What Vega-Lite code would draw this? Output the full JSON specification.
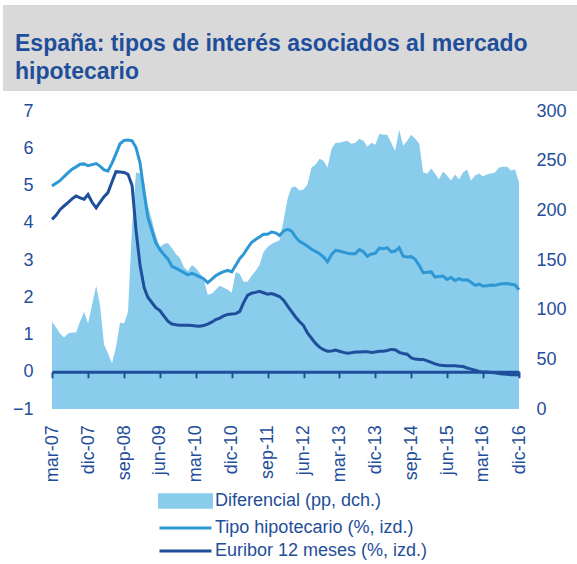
{
  "$schema": "https://vega.github.io/schema/vega-lite/v6.json",
  "padding": {"left": 3, "top": 5, "right": 0, "bottom": 0},
  "background": "#ffffff",
  "spacing": 11,
  "config": {
    "font": "Liberation Sans",
    "view": {"stroke": null},
    "axis": {"grid": false, "labelFont": "Liberation Sans", "labelColor": "#1F4E9A", "labelFontSize": 18}
  },
  "vconcat": [
    {
      "width": 574,
      "height": 86,
      "view": {"fill": "#d9d9d9", "stroke": null},
      "title": {
        "text": ["España: tipos de interés asociados al mercado", "hipotecario"],
        "anchor": "start", "frame": "group", "orient": "top",
        "offset": -79, "dx": 12, "font": "Liberation Sans", "fontSize": 23,
        "fontWeight": "bold", "color": "#1F4E9A", "lineHeight": 28
      },
      "data": {"values": [{}]},
      "mark": {"type": "text"},
      "encoding": {"text": {"value": ""}}
    },
    {
      "width": 516,
      "height": 298,
      "data": {"values": [
        {"d":"2007-03","dif":88,"t":4.99,"e":4.09},
        {"d":"2007-04","dif":82,"t":5.06,"e":4.20},
        {"d":"2007-05","dif":76,"t":5.13,"e":4.35},
        {"d":"2007-06","dif":72,"t":5.24,"e":4.45},
        {"d":"2007-07","dif":76,"t":5.34,"e":4.54},
        {"d":"2007-08","dif":77,"t":5.44,"e":4.64},
        {"d":"2007-09","dif":77,"t":5.50,"e":4.72},
        {"d":"2007-10","dif":88,"t":5.57,"e":4.67},
        {"d":"2007-11","dif":98,"t":5.58,"e":4.63},
        {"d":"2007-12","dif":86,"t":5.53,"e":4.76},
        {"d":"2008-01","dif":105,"t":5.56,"e":4.55},
        {"d":"2008-02","dif":124,"t":5.59,"e":4.40},
        {"d":"2008-03","dif":105,"t":5.52,"e":4.55},
        {"d":"2008-04","dif":65,"t":5.42,"e":4.70},
        {"d":"2008-05","dif":56,"t":5.39,"e":4.81},
        {"d":"2008-06","dif":46,"t":5.60,"e":5.10},
        {"d":"2008-07","dif":62,"t":5.85,"e":5.37},
        {"d":"2008-08","dif":87,"t":6.12,"e":5.36},
        {"d":"2008-09","dif":86,"t":6.21,"e":5.35},
        {"d":"2008-10","dif":98,"t":6.22,"e":5.30},
        {"d":"2008-11","dif":185,"t":6.20,"e":5.00},
        {"d":"2008-12","dif":238,"t":6.02,"e":3.80},
        {"d":"2009-01","dif":237,"t":5.60,"e":2.85},
        {"d":"2009-02","dif":228,"t":4.80,"e":2.26},
        {"d":"2009-03","dif":205,"t":4.15,"e":2.00},
        {"d":"2009-04","dif":190,"t":3.80,"e":1.86},
        {"d":"2009-05","dif":175,"t":3.46,"e":1.72},
        {"d":"2009-06","dif":163,"t":3.28,"e":1.64},
        {"d":"2009-07","dif":166,"t":3.15,"e":1.50},
        {"d":"2009-08","dif":167,"t":3.03,"e":1.36},
        {"d":"2009-09","dif":162,"t":2.83,"e":1.28},
        {"d":"2009-10","dif":156,"t":2.78,"e":1.26},
        {"d":"2009-11","dif":152,"t":2.72,"e":1.25},
        {"d":"2009-12","dif":143,"t":2.66,"e":1.25},
        {"d":"2010-01","dif":139,"t":2.60,"e":1.25},
        {"d":"2010-02","dif":145,"t":2.64,"e":1.24},
        {"d":"2010-03","dif":142,"t":2.60,"e":1.23},
        {"d":"2010-04","dif":137,"t":2.55,"e":1.22},
        {"d":"2010-05","dif":132,"t":2.50,"e":1.24},
        {"d":"2010-06","dif":115,"t":2.39,"e":1.28},
        {"d":"2010-07","dif":116,"t":2.48,"e":1.33},
        {"d":"2010-08","dif":120,"t":2.58,"e":1.40},
        {"d":"2010-09","dif":124,"t":2.64,"e":1.44},
        {"d":"2010-10","dif":122,"t":2.69,"e":1.50},
        {"d":"2010-11","dif":120,"t":2.72,"e":1.54},
        {"d":"2010-12","dif":117,"t":2.68,"e":1.55},
        {"d":"2011-01","dif":138,"t":2.86,"e":1.56},
        {"d":"2011-02","dif":136,"t":3.04,"e":1.62},
        {"d":"2011-03","dif":128,"t":3.15,"e":1.85},
        {"d":"2011-04","dif":128,"t":3.32,"e":2.05},
        {"d":"2011-05","dif":134,"t":3.47,"e":2.11},
        {"d":"2011-06","dif":139,"t":3.55,"e":2.13},
        {"d":"2011-07","dif":145,"t":3.62,"e":2.16},
        {"d":"2011-08","dif":158,"t":3.69,"e":2.12},
        {"d":"2011-09","dif":163,"t":3.69,"e":2.08},
        {"d":"2011-10","dif":166,"t":3.75,"e":2.10},
        {"d":"2011-11","dif":168,"t":3.73,"e":2.06},
        {"d":"2011-12","dif":170,"t":3.66,"e":2.02},
        {"d":"2012-01","dif":190,"t":3.78,"e":1.92},
        {"d":"2012-02","dif":212,"t":3.82,"e":1.76},
        {"d":"2012-03","dif":223,"t":3.78,"e":1.62},
        {"d":"2012-04","dif":224,"t":3.62,"e":1.47},
        {"d":"2012-05","dif":220,"t":3.50,"e":1.35},
        {"d":"2012-06","dif":221,"t":3.44,"e":1.24},
        {"d":"2012-07","dif":226,"t":3.37,"e":1.04},
        {"d":"2012-08","dif":243,"t":3.29,"e":0.90},
        {"d":"2012-09","dif":246,"t":3.23,"e":0.76},
        {"d":"2012-10","dif":252,"t":3.17,"e":0.66},
        {"d":"2012-11","dif":250,"t":3.08,"e":0.59},
        {"d":"2012-12","dif":243,"t":2.95,"e":0.55},
        {"d":"2013-01","dif":262,"t":3.15,"e":0.56},
        {"d":"2013-02","dif":268,"t":3.26,"e":0.58},
        {"d":"2013-03","dif":268,"t":3.24,"e":0.55},
        {"d":"2013-04","dif":269,"t":3.21,"e":0.52},
        {"d":"2013-05","dif":270,"t":3.18,"e":0.50},
        {"d":"2013-06","dif":267,"t":3.17,"e":0.51},
        {"d":"2013-07","dif":268,"t":3.17,"e":0.53},
        {"d":"2013-08","dif":272,"t":3.28,"e":0.53},
        {"d":"2013-09","dif":270,"t":3.22,"e":0.54},
        {"d":"2013-10","dif":264,"t":3.10,"e":0.54},
        {"d":"2013-11","dif":268,"t":3.16,"e":0.52},
        {"d":"2013-12","dif":266,"t":3.18,"e":0.53},
        {"d":"2014-01","dif":277,"t":3.32,"e":0.55},
        {"d":"2014-02","dif":276,"t":3.30,"e":0.55},
        {"d":"2014-03","dif":276,"t":3.33,"e":0.57},
        {"d":"2014-04","dif":268,"t":3.22,"e":0.60},
        {"d":"2014-05","dif":260,"t":3.24,"e":0.59},
        {"d":"2014-06","dif":281,"t":3.33,"e":0.52},
        {"d":"2014-07","dif":265,"t":3.10,"e":0.49},
        {"d":"2014-08","dif":270,"t":3.08,"e":0.47},
        {"d":"2014-09","dif":276,"t":3.09,"e":0.37},
        {"d":"2014-10","dif":272,"t":3.02,"e":0.34},
        {"d":"2014-11","dif":267,"t":2.85,"e":0.33},
        {"d":"2014-12","dif":238,"t":2.66,"e":0.33},
        {"d":"2015-01","dif":237,"t":2.67,"e":0.29},
        {"d":"2015-02","dif":242,"t":2.68,"e":0.25},
        {"d":"2015-03","dif":237,"t":2.54,"e":0.21},
        {"d":"2015-04","dif":231,"t":2.56,"e":0.18},
        {"d":"2015-05","dif":239,"t":2.57,"e":0.17},
        {"d":"2015-06","dif":235,"t":2.48,"e":0.16},
        {"d":"2015-07","dif":230,"t":2.53,"e":0.16},
        {"d":"2015-08","dif":236,"t":2.45,"e":0.16},
        {"d":"2015-09","dif":231,"t":2.50,"e":0.15},
        {"d":"2015-10","dif":238,"t":2.46,"e":0.14},
        {"d":"2015-11","dif":241,"t":2.47,"e":0.10},
        {"d":"2015-12","dif":230,"t":2.40,"e":0.07},
        {"d":"2016-01","dif":235,"t":2.32,"e":0.04},
        {"d":"2016-02","dif":237,"t":2.35,"e":0.01},
        {"d":"2016-03","dif":234,"t":2.30,"e":-0.01},
        {"d":"2016-04","dif":236,"t":2.31,"e":-0.01},
        {"d":"2016-05","dif":237,"t":2.33,"e":-0.02},
        {"d":"2016-06","dif":238,"t":2.32,"e":-0.03},
        {"d":"2016-07","dif":243,"t":2.35,"e":-0.05},
        {"d":"2016-08","dif":244,"t":2.36,"e":-0.06},
        {"d":"2016-09","dif":244,"t":2.37,"e":-0.07},
        {"d":"2016-10","dif":240,"t":2.35,"e":-0.08},
        {"d":"2016-11","dif":241,"t":2.33,"e":-0.08},
        {"d":"2016-12","dif":228,"t":2.20,"e":-0.09}
      ]},
      "encoding": {
        "x": {
          "field": "d", "type": "temporal", "title": null,
          "scale": {"type": "utc", "range": [49, 516], "domain": [{"year": 2007, "month": 3, "date": 1, "utc": true}, {"year": 2016, "month": 12, "date": 1, "utc": true}]},
          "axis": {
            "values": [
              {"year": 2007, "month": 3, "date": 1, "utc": true},
              {"year": 2007, "month": 12, "date": 1, "utc": true},
              {"year": 2008, "month": 9, "date": 1, "utc": true},
              {"year": 2009, "month": 6, "date": 1, "utc": true},
              {"year": 2010, "month": 3, "date": 1, "utc": true},
              {"year": 2010, "month": 12, "date": 1, "utc": true},
              {"year": 2011, "month": 9, "date": 1, "utc": true},
              {"year": 2012, "month": 6, "date": 1, "utc": true},
              {"year": 2013, "month": 3, "date": 1, "utc": true},
              {"year": 2013, "month": 12, "date": 1, "utc": true},
              {"year": 2014, "month": 9, "date": 1, "utc": true},
              {"year": 2015, "month": 6, "date": 1, "utc": true},
              {"year": 2016, "month": 3, "date": 1, "utc": true},
              {"year": 2016, "month": 12, "date": 1, "utc": true}
            ],
            "labelExpr": "['ene','feb','mar','abr','may','jun','jul','ago','sep','oct','nov','dic'][utcmonth(datum.value)] + '-' + utcFormat(datum.value, '%y')",
            "labelAngle": -90, "labelAlign": "right", "labelBaseline": "middle",
            "labelPadding": 47, "labelFlush": false, "labelOverlap": false,
            "offset": -37.25, "domainColor": "#1F4E9A", "domainWidth": 3,
            "tickColor": "#1F4E9A", "tickWidth": 2, "tickSize": 6, "zindex": 1, "grid": false
          }
        }
      },
      "layer": [
        {
          "mark": {"type": "area", "interpolate": "linear"},
          "encoding": {
            "y": {"field": "dif", "type": "quantitative", "title": null,
              "scale": {"domain": [0, 300]},
              "axis": {"orient": "right", "values": [0, 50, 100, 150, 200, 250, 300], "domain": false, "ticks": false, "labelPadding": 17, "labelOverlap": false, "grid": false}},
            "color": {
              "datum": "Diferencial (pp, dch.)",
              "scale": {"domain": ["Diferencial (pp, dch.)", " Tipo hipotecario (%, izd.)", "Euribor 12 meses (%, izd.)"], "range": ["#89CCEC", "#2E98D6", "#1F4E9A"]},
              "legend": {
                "orient": "none", "legendX": 173.5, "legendY": 487, "direction": "vertical",
                "title": null, "padding": 0, "labelFont": "Liberation Sans", "labelFontSize": 18,
                "labelColor": "#1F4E9A", "labelOffset": 20.5, "symbolSize": 169, "rowPadding": 5, "labelLimit": 400,
                "encode": {"symbols": {"update": {
                  "shape": {"signal": "datum.value == 'Diferencial (pp, dch.)' ? 'M-4,-0.95H4V0.95H-4Z' : 'M-4,0H4'"},
                  "fill": {"signal": "datum.value == 'Diferencial (pp, dch.)' ? '#89CCEC' : 'transparent'"},
                  "stroke": {"signal": "datum.value == 'Diferencial (pp, dch.)' ? 'transparent' : (datum.value == 'Euribor 12 meses (%, izd.)' ? '#1F4E9A' : '#2E98D6')"},
                  "strokeWidth": {"value": 3},
                  "opacity": {"value": 1}
                }}}
              }
            }
          }
        },
        {
          "layer": [
            {
              "mark": {"type": "line", "strokeWidth": 3},
              "encoding": {
                "y": {"field": "t", "type": "quantitative", "title": null,
                  "scale": {"domain": [-1, 7]},
                  "axis": {"orient": "left", "offset": -49, "values": [-1, 0, 1, 2, 3, 4, 5, 6, 7], "domain": false, "ticks": false, "labelPadding": 19, "labelOverlap": false, "minExtent": 0, "grid": false}},
                "color": {"datum": " Tipo hipotecario (%, izd.)"}
              }
            },
            {
              "mark": {"type": "line", "strokeWidth": 3},
              "encoding": {
                "y": {"field": "e", "type": "quantitative", "title": null,
                  "scale": {"domain": [-1, 7]},
                  "axis": {"orient": "left", "offset": -49, "values": [-1, 0, 1, 2, 3, 4, 5, 6, 7], "domain": false, "ticks": false, "labelPadding": 19, "labelOverlap": false, "minExtent": 0, "grid": false}},
                "color": {"datum": "Euribor 12 meses (%, izd.)"}
              }
            }
          ]
        }
      ],
      "resolve": {"scale": {"y": "independent"}}
    }
  ]
}
